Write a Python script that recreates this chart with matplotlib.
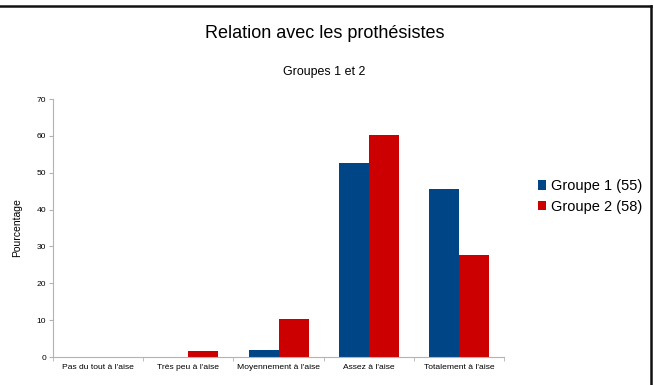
import numpy as np
import matplotlib
matplotlib.use('Agg')
from matplotlib import pyplot as plt
from matplotlib.lines import Line2D

# données
categories = ["Pas du tout à l'aise", "Très peu à l'aise", "Moyennement à l'aise",
              "Assez à l'aise", "Totalement à l'aise"]
groupe1 = [0.0, 0.0, 1.8, 52.7, 45.5]
groupe2 = [0.0, 1.7, 10.3, 60.3, 27.6]
labels = ["Groupe 1 (55)", "Groupe 2 (58)"]
yticks = [0, 10, 20, 30, 40, 50, 60, 70]

plt.rcParams['font.family'] = ['Liberation Sans', 'DejaVu Sans']

fig = plt.figure(figsize=(6.54, 3.85), dpi=100)
ax = fig.add_axes([0.081, 0.0727, 0.690, 0.6701])

x = np.arange(len(categories))
w = 0.333
ax.bar(x - w / 2, groupe1, w, color='#004586', label=labels[0])
ax.bar(x + w / 2, groupe2, w, color='#cc0000', label=labels[1])

ax.set_xlim(-0.5, len(categories) - 0.5)
ax.set_ylim(0, 70)
ax.set_yticks(yticks)
ax.set_xticks(x)
ax.set_xticklabels(categories, fontsize=6.1)
ax.set_xticks(np.arange(len(categories) + 1) - 0.5, minor=True)
ax.tick_params(axis='x', which='major', length=0, pad=5)
ax.tick_params(axis='x', which='minor', length=3, color='#b3b3b3')
ax.tick_params(axis='y', labelsize=6.1, length=3, color='#b3b3b3', pad=2)

for s in ['top', 'right']:
    ax.spines[s].set_visible(False)
for s in ['left', 'bottom']:
    ax.spines[s].set_color('#b3b3b3')
    ax.spines[s].set_linewidth(0.8)

ax.set_ylabel('Pourcentage', fontsize=7.5, labelpad=10)

fig.text(0.496, 0.914, 'Relation avec les prothésistes', fontsize=13,
         ha='center', va='center')
fig.text(0.496, 0.813, 'Groupes 1 et 2', fontsize=8.9, ha='center', va='center')

fig.legend(loc='center left', bbox_to_anchor=(0.822, 0.49), frameon=False,
           fontsize=10.5, handlelength=0.6, handleheight=0.6, handletextpad=0.35,
           labelspacing=0.45, borderaxespad=0, borderpad=0)

# cadre
fig.add_artist(Line2D([0, 0.996], [0.985, 0.985], color='#111111', lw=1.8,
                      transform=fig.transFigure))
fig.add_artist(Line2D([0.996, 0.996], [0, 0.985], color='#111111', lw=1.8,
                      transform=fig.transFigure))

fig.savefig('out.png', dpi=100)
plt.close()
